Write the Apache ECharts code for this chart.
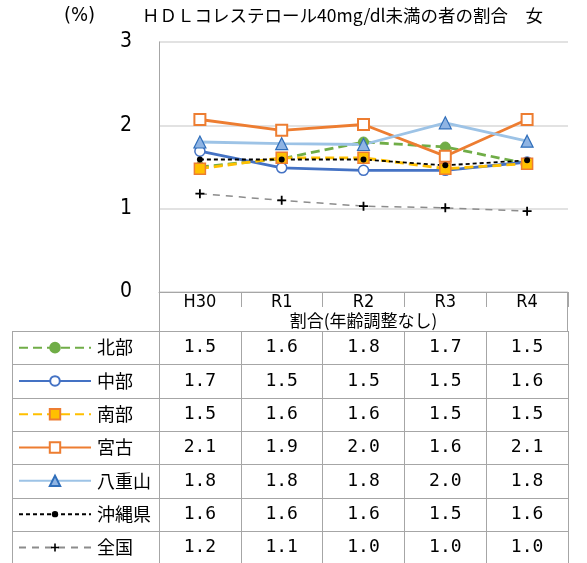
<!DOCTYPE html>
<html>
<head>
<meta charset="utf-8">
<script src="https://cdn.jsdelivr.net/npm/echarts@6/dist/echarts.min.js"></script>
<style>
  html, body { margin: 0; padding: 0; background: #fff; }
  #chart { width: 587px; height: 563px; }
</style>
</head>
<body>
<div id="chart"></div>
<script>
// Fiscal years on the category axis
var years = ['H30', 'R1', 'R2', 'R3', 'R4'];

// Share of women with HDL cholesterol under 40 mg/dl (%), by area
var hokubu   = [1.50, 1.60, 1.80, 1.74, 1.54];
var chubu    = [1.69, 1.49, 1.46, 1.46, 1.56];
var nanbu    = [1.48, 1.61, 1.61, 1.48, 1.54];
var miyako   = [2.07, 1.94, 2.01, 1.63, 2.07];
var yaeyama  = [1.80, 1.78, 1.77, 2.03, 1.81];
var okinawa  = [1.59, 1.59, 1.59, 1.52, 1.58];
var zenkoku  = [1.18, 1.10, 1.03, 1.01, 0.97];

var seriesNames = ['北部', '中部', '南部', '宮古', '八重山', '沖縄県', '全国'];
var seriesData = [hokubu, chubu, nanbu, miyako, yaeyama, okinawa, zenkoku];

// Y axis ticks
var yTicks = [0, 1, 2, 3];

var titleText = 'ＨＤＬコレステロール40mg/dl未満の者の割合　女';
var unitText = '(%)';
var tableHeader = '割合(年齢調整なし)';

// ---- layout ----
var W = 587, H = 563;
var gridLeft = 159, gridRight = 19, gridTop = 42, gridBottom = 271;
var axisY = H - gridBottom;          // pixel row of the category axis
var tableTop = axisY + 39;           // first data row top
var rowH = 33.3;
var tableLeft = 12, tableRight = W - gridRight;
var lineGray = '#a6a6a6';
var cjk = "'Noto Sans CJK JP', sans-serif";
var narrow = "'DejaVu Sans Condensed', 'Liberation Sans Narrow', sans-serif";
var mono = "'DejaVu Sans Mono', 'Liberation Mono', monospace";

var plusPath = 'path://M4,0H6V4H10V6H6V10H4V6H0V4H4Z';

var styles = [
  { line: { color: '#70ad47', width: 2.8, type: [9, 5] }, symbol: 'circle', size: 10,
    item: { color: '#70ad47', borderColor: '#70ad47', borderWidth: 1 }, legendH: 12 },
  { line: { color: '#4472c4', width: 2.8, type: 'solid' }, symbol: 'circle', size: 10,
    item: { color: '#ffffff', borderColor: '#4472c4', borderWidth: 1.5 }, legendH: 12 },
  { line: { color: '#ffc000', width: 2.8, type: [9, 5] }, symbol: 'rect', size: 11,
    item: { color: '#ffc000', borderColor: '#ed7d31', borderWidth: 1.5 }, legendH: 13 },
  { line: { color: '#ed7d31', width: 2.8, type: 'solid' }, symbol: 'rect', size: 11,
    item: { color: '#ffffff', borderColor: '#ed7d31', borderWidth: 2 }, legendH: 13 },
  { line: { color: '#9dc3e6', width: 2.8, type: 'solid' }, symbol: 'triangle', size: 12,
    item: { color: '#8fb4e3', borderColor: '#2f6eba', borderWidth: 1.2 }, legendH: 13 },
  { line: { color: '#000000', width: 1.8, type: [4, 3] }, symbol: 'circle', size: 6,
    item: { color: '#000000' }, legendH: 8 },
  { line: { color: '#8c8c8c', width: 1.5, type: [7, 6] }, symbol: plusPath, size: 9,
    item: { color: '#000000' }, legendH: 10 }
];

var series = seriesNames.map(function (name, i) {
  var s = styles[i];
  return {
    name: name,
    type: 'line',
    data: seriesData[i],
    xAxisIndex: 0,
    yAxisIndex: 0,
    symbol: s.symbol,
    symbolSize: s.size,
    showAllSymbol: true,
    lineStyle: s.line,
    itemStyle: s.item,
    color: s.line.color,
    emphasis: { disabled: true },
    animation: false
  };
});

// One legend per table row so each sits in its own cell
var legends = seriesNames.map(function (name, i) {
  var center = tableTop + rowH * (i + 0.5);
  var ih = styles[i].legendH;
  var lh = 20;
  return {
    data: [name],
    left: 18,
    top: center - Math.max(ih, lh) / 2,
    padding: 0,
    itemWidth: 72,
    itemHeight: ih,
    itemGap: 0,
    selectedMode: false,
    textStyle: { fontFamily: cjk, fontSize: 18, color: '#000', lineHeight: lh, padding: [0, 0, 0, 1] }
  };
});

// Category axis (header row) plus one label-only axis per data row
var xAxes = [{
  type: 'category',
  data: years,
  gridIndex: 0,
  position: 'bottom',
  boundaryGap: true,
  axisLine: { show: true, lineStyle: { color: lineGray, width: 1 } },
  axisTick: { show: true, length: 15, lineStyle: { color: lineGray } },
  axisLabel: { margin: 1, fontFamily: narrow, fontSize: 18, color: '#000' },
  name: tableHeader,
  nameLocation: 'middle',
  nameGap: 18,
  nameTextStyle: { fontFamily: cjk, fontSize: 17, color: '#000' }
}];

seriesData.forEach(function (vals, i) {
  var center = tableTop + rowH * (i + 0.5);
  xAxes.push({
    type: 'category',
    data: years,
    gridIndex: 0,
    position: 'bottom',
    offset: center - axisY,
    boundaryGap: true,
    axisLine: { show: false },
    axisTick: { show: false },
    axisLabel: {
      margin: 0,
      verticalAlign: 'middle',
      fontFamily: mono,
      fontSize: 18,
      color: '#000',
      formatter: function (v, idx) { return vals[idx].toFixed(1); }
    }
  });
});

// Column dividers through the table body
xAxes.push({
  type: 'category',
  data: years,
  gridIndex: 0,
  position: 'bottom',
  offset: tableTop - axisY,
  boundaryGap: true,
  axisLine: { show: false },
  axisTick: { show: true, length: H - tableTop + 2, lineStyle: { color: lineGray } },
  axisLabel: { show: false }
});

// Row rules and outer borders of the table
var rules = [];
for (var r = 0; r <= seriesNames.length; r++) {
  var y = Math.round(tableTop + rowH * r) + 0.5;
  rules.push({ type: 'line', shape: { x1: tableLeft, y1: y, x2: tableRight, y2: y },
    style: { stroke: lineGray, lineWidth: 1 }, silent: true });
}
rules.push({ type: 'line', shape: { x1: tableLeft + 0.5, y1: tableTop, x2: tableLeft + 0.5, y2: H },
  style: { stroke: lineGray, lineWidth: 1 }, silent: true });
rules.push({ type: 'line', shape: { x1: gridLeft + 0.5, y1: axisY, x2: gridLeft + 0.5, y2: tableTop },
  style: { stroke: lineGray, lineWidth: 1 }, silent: true });
rules.push({ type: 'line', shape: { x1: tableRight - 0.5, y1: axisY, x2: tableRight - 0.5, y2: tableTop },
  style: { stroke: lineGray, lineWidth: 1 }, silent: true });

var option = {
  backgroundColor: '#ffffff',
  animation: false,
  title: [
    { text: titleText, left: 142, top: 7, padding: 0,
      textStyle: { fontFamily: cjk, fontSize: 17.5, fontWeight: 'normal', color: '#000' } },
    { text: unitText, left: 64, top: 6, padding: 0,
      textStyle: { fontFamily: narrow, fontSize: 20, fontWeight: 'normal', color: '#000' } }
  ],
  legend: legends,
  grid: { left: gridLeft, right: gridRight, top: gridTop, bottom: gridBottom, containLabel: false },
  xAxis: xAxes,
  yAxis: {
    type: 'value',
    min: yTicks[0],
    max: yTicks[yTicks.length - 1],
    interval: 1,
    axisLine: { show: true, lineStyle: { color: lineGray } },
    axisTick: { show: false },
    axisLabel: { margin: 27, fontFamily: narrow, fontSize: 21, color: '#000',
      formatter: function (v) { return yTicks.indexOf(v) >= 0 ? String(v) : ''; } },
    splitLine: { show: true, lineStyle: { color: '#d9d9d9', width: 1.5 } }
  },
  graphic: rules,
  series: series
};

var chart = echarts.init(document.getElementById('chart'), null, { renderer: 'canvas' });
chart.setOption(option);
</script>
</body>
</html>
